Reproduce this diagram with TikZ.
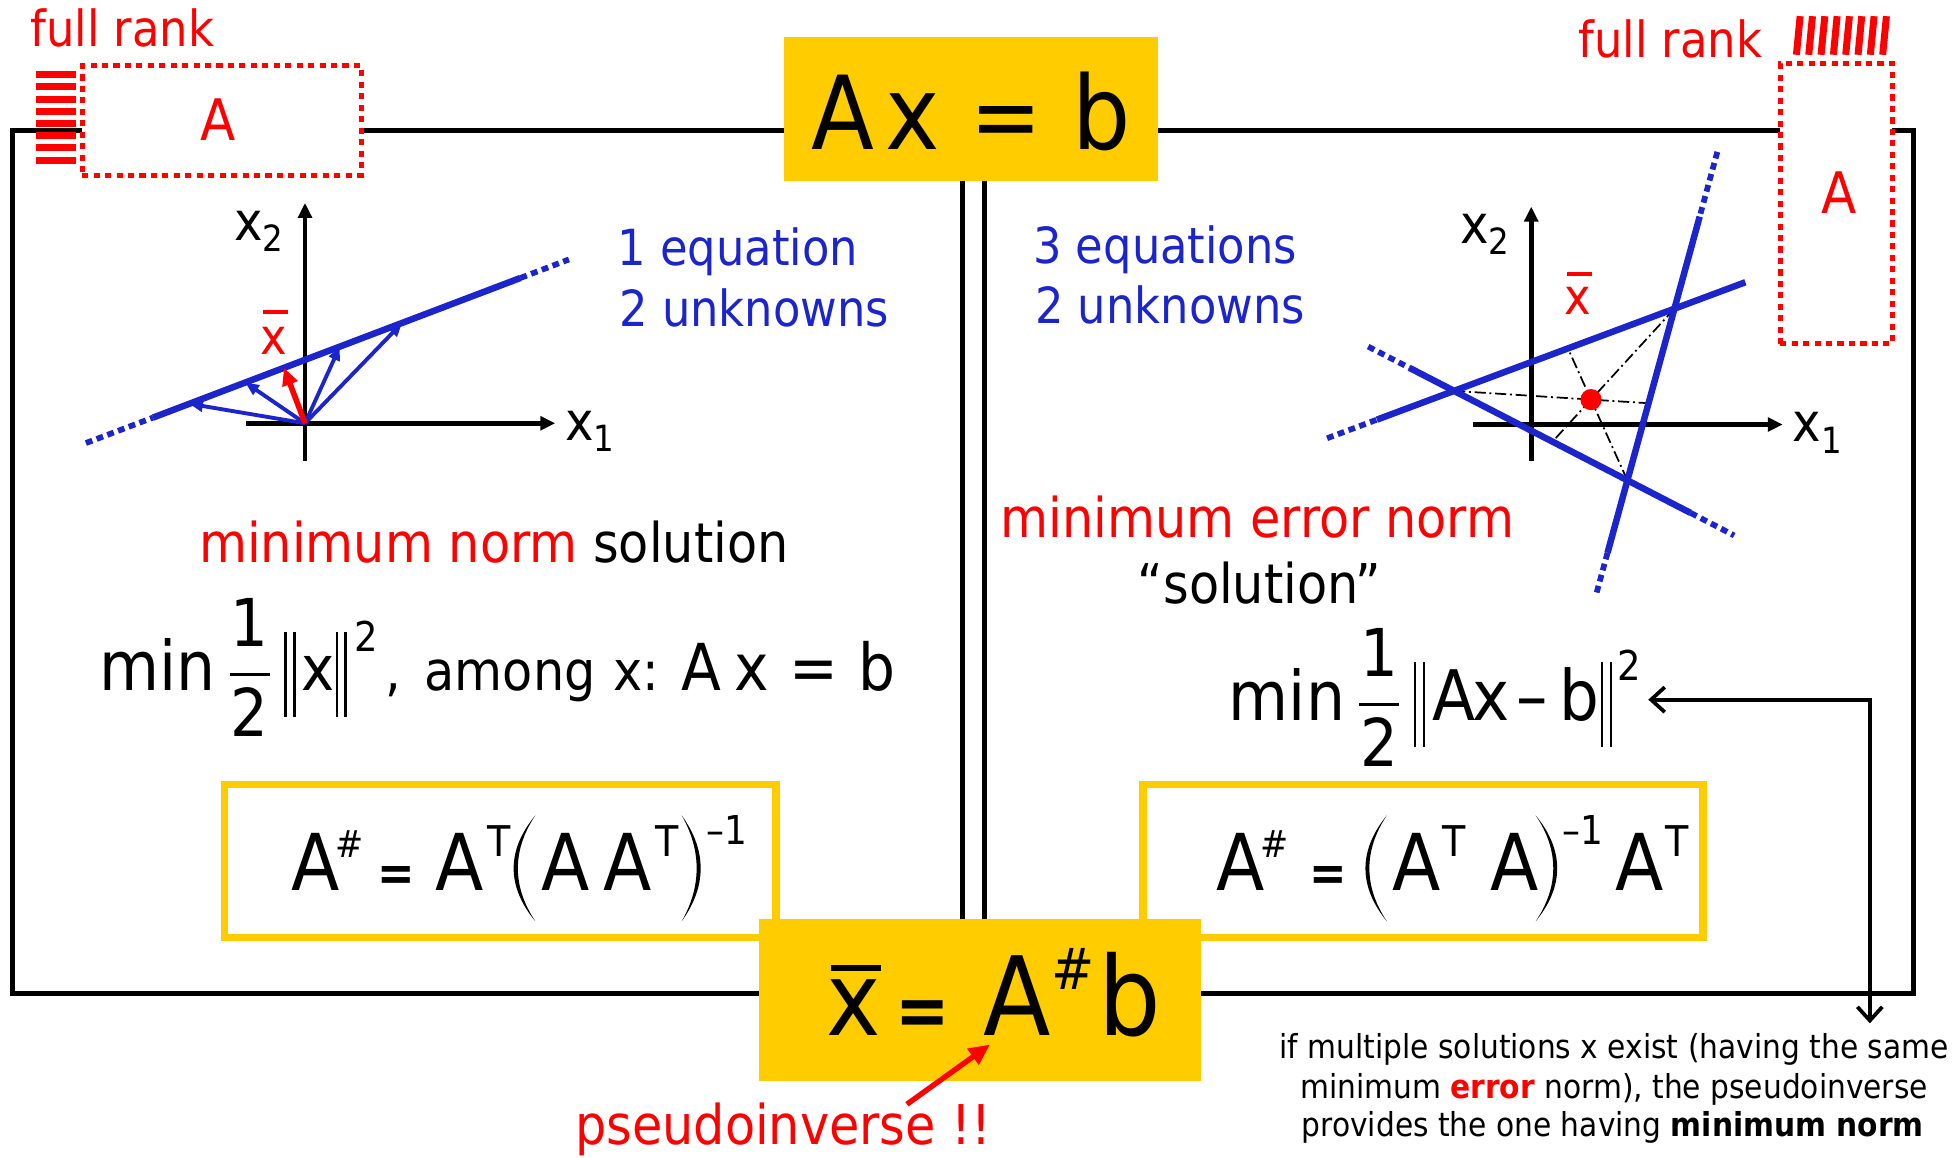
\RequirePackage{fix-cm}
\documentclass[tikz,border=0pt]{standalone}
\usepackage{amsmath}
\usepackage{graphicx}
\usepackage{fontspec}
\setmainfont{DejaVu Sans}[FakeStretch=0.9]
\usetikzlibrary{arrows.meta}
\definecolor{ayellow}{RGB}{255,204,0}
\definecolor{ablue}{RGB}{28,36,204}
\definecolor{ared}{RGB}{255,0,0}
\newcommand\fs[1]{\fontsize{#1}{#1}\selectfont}
\newcommand\pp[2]{\rlap{\hspace*{#1}#2}\ignorespaces}
\newcommand\dbar{\rule[-21pt]{2pt}{68pt}\hspace{5pt}\rule[-21pt]{2pt}{68pt}}
\newcommand\xb[3]{\rlap{\kern0.05em\rule[#1]{#3}{#2}}x}
\newcommand\half{{\fs{53}$\genfrac{}{}{2.2pt}{0}{\text{\kern1pt 1\kern1pt}}{\text{\kern1pt 2\kern1pt}}$}}
\begin{document}
\begin{tikzpicture}[x=1pt,y=-1pt,
  every node/.style={inner sep=0pt,outer sep=0pt},
  lbl/.style={anchor=base west},
  frameline/.style={line width=4.3pt},
  dline/.style={line width=4pt},
  dotbox/.style={draw=ared,line width=4pt,dash pattern=on 4.9pt off 4.3pt,fill=white},
  hatch/.style={draw=ared,line width=5.6pt},
  axis/.style={line width=3.7pt,-{Triangle[length=12pt,width=11pt]}},
  bline/.style={draw=ablue,line width=5.2pt},
  bdots/.style={draw=ablue,line width=4.6pt,dash pattern=on 5.5pt off 3.7pt},
  vec/.style={draw=ablue,line width=3.1pt,-{Triangle[length=11pt,width=9pt]}},
  rvec/.style={draw=ared,line width=4.5pt,-{Triangle[length=14pt,width=12.5pt]}},
  ddash/.style={line width=1.4pt,dash pattern=on 9pt off 3pt on 1.5pt off 3pt},
  ybox/.style={draw=ayellow,line width=6pt},
  yfill/.style={fill=ayellow},
  paren/.style={fill=black},
  note/.style={anchor=base,font=\fs{26.5}},
  conn/.style={line width=3pt,{Straight Barb[length=11pt,width=20pt]}-{Straight Barb[length=11pt,width=20pt]}},
  parrow/.style={draw=ared,line width=4.3pt,-{Triangle[length=17pt,width=15pt]}}]
\useasboundingbox (0,0) rectangle (1568,930);
\fill[white] (0,0) rectangle (1568,930);
% frame
\draw[frameline] (10,105) rectangle (1537,798);
% outlined formula boxes
\node[ybox,minimum width=443pt,minimum height=123pt] (boxL) at (402,691.5) {};
\node[ybox,minimum width=450pt,minimum height=123pt] (boxR) at (1143,691.5) {};
% filled yellow boxes
\node[yfill,minimum width=300pt,minimum height=115pt] (topbox) at (780,87.5) {};
\node[yfill,minimum width=355pt,minimum height=130pt] (botbox) at (787,803) {};
\coordinate (dl) at (773,0);
\coordinate (dr) at (791,0);
\draw[dline] (topbox.south -| dl) -- (botbox.north -| dl);
\draw[dline] (topbox.south -| dr) -- (botbox.north -| dr);
% dotted A boxes and hatches
\node[dotbox,minimum width=224pt,minimum height=88pt] (boxAL) at (178,97) {};
\node[dotbox,minimum width=90pt,minimum height=225pt] (boxAR) at (1475,163.5) {};
\foreach \i in {0,...,7} \draw[hatch] (29,{60+9.8*\i}) -- (61,{60+9.8*\i});
\foreach \i in {0,...,7} \draw[hatch] ({1443+9.9*\i},44) -- ({1446+9.9*\i},13);
\node[lbl,ared] (frL) at (24.6,37.3) {\fs{40}full rank};
\node[lbl,ared] (frR) at (1268,46) {\fs{40}full rank};
\node[ared,font=\fs{46}] (AL) at (175,96) {A};
\node[ared,font=\fs{46}] (AR) at (1477,155) {A};
% left diagram
\draw[axis] (198,340) -- (446,340);
\draw[axis] (245,370) -- (245,163);
\coordinate (O1) at (245,340);
\draw[bdots] (69,355.9) -- (123,335.4);
\draw[bline] (123,335.4) -- (418,223.3);
\draw[bdots] (418,223.3) -- (457,208.4);
\foreach \x/\y [count=\k] in {152/324.3,197/307.2,273/278.4,323/259.4} {
  \coordinate (v\k) at (\x,\y);
  \draw[vec] (O1) -- (v\k);
}
\coordinate (xf) at (228.1,295.4);
\draw[rvec] (O1) -- (xf);
\node[lbl] (x2L) at (188,193.4) {\fs{43}x\raisebox{-8.6pt}{\fs{29}2}};
\node[lbl] (x1L) at (454,354) {\fs{43}x\raisebox{-9pt}{\fs{29}1}};
\node[lbl,ared] (xbL) at (209.5,284.4) {\fs{40}\xb{32pt}{3pt}{20pt}};
\node[lbl,ablue] (eq1) at (496,213) {\fs{40}1 equation};
\node[lbl,ablue] (unk1) at (497.5,262) {\fs{40}2 unknowns};
% right diagram
\draw[axis] (1183,341) -- (1432,341);
\draw[axis] (1230,370) -- (1230,166);
\coordinate (PA) at (1168,314);
\coordinate (PB) at (1345,248);
\coordinate (PC) at (1307.2,385.8);
\coordinate (EA) at (1324.2,323.9);
\coordinate (EB) at (1247.0,354.8);
\coordinate (EC) at (1259.5,279.9);
\draw[ddash] (PA) -- (EA);
\draw[ddash] (PB) -- (EB);
\draw[ddash] (PC) -- (EC);
\draw[bdots] (1066,352.05) -- (1106,337.1);
\draw[bline] (1106,337.1) -- (1402,226.7);
\draw[bdots] (1099,278.4) -- (1132,295.4);
\draw[bline] (1132,295.4) -- (1358,412.0);
\draw[bdots] (1358,412.0) -- (1393,430.1);
\draw[bdots] (1379.5,122) -- (1365.3,174);
\draw[bline] (1365.3,174) -- (1291.3,444);
\draw[bdots] (1291.3,444) -- (1282,478);
\fill[ared] (1278,321) circle (8.5);
\node[lbl] (x2R) at (1173,195.5) {\fs{43}x\raisebox{-8.6pt}{\fs{29}2}};
\node[lbl] (x1R) at (1440,355) {\fs{43}x\raisebox{-9pt}{\fs{29}1}};
\node[lbl,ared] (xbR) at (1257,252.8) {\fs{40}\xb{31pt}{3pt}{20pt}};
\node[lbl,ablue] (eq3) at (830,212) {\fs{40}3 equations};
\node[lbl,ablue] (unk2) at (831.5,260) {\fs{40}2 unknowns};
% headings
\node[lbl] (mns) at (160,452) {\fs{44}\textcolor{ared}{minimum norm} solution};
\node[lbl,ared] (men) at (804,432) {\fs{44}minimum error norm};
\node[lbl] (sol) at (914,485) {\fs{44}“solution”};
% equations
\node[lbl] (eqL) at (84,555) {\fs{55}\pp{-4.4pt}{min}\pp{98.8pt}{\half}\pp{144pt}{\dbar}\pp{157.5pt}{\fs{50}x}\pp{185pt}{\dbar}\pp{200pt}{\raisebox{32pt}{\fs{33}2}}\pp{225.5pt}{\fs{44},}\pp{256.6pt}{\fs{44}among}\pp{408pt}{\fs{44}x:}\pp{463pt}{\fs{52}A}\pp{505.6pt}{\fs{52}x}\pp{550pt}{\fs{52}=}\pp{605pt}{\fs{52}b}};
\node[lbl] (eqR) at (991,579) {\fs{55}\pp{-4.4pt}{min}\pp{98.8pt}{\half}\pp{144.3pt}{\dbar}\pp{159pt}{\fs{56}A}\pp{191pt}{\fs{56}x}\pp{227pt}{\fs{56}–}\pp{261pt}{\fs{56}b}\pp{294.5pt}{\dbar}\pp{308pt}{\raisebox{32pt}{\fs{33}2}}};
% formula in left box
\node[lbl] (fL) at (234,715) {\fs{63}\pp{0pt}{A}\pp{35pt}{\raisebox{26pt}{\fs{30}\#}}\pp{69pt}{\fs{40}\bfseries =}\pp{115.5pt}{A}\pp{157pt}{\raisebox{27pt}{\fs{34}T}}\pp{200.3pt}{A}\pp{250.4pt}{A}\pp{291.8pt}{\raisebox{27pt}{\fs{34}T}}\pp{333pt}{\raisebox{36.7pt}{\fs{32}–1}}};
\fill[paren] (430,655) .. controls (406.8,683) and (406.8,712) .. (430,740) .. controls (411.3,712) and (411.3,683) .. (430,655) -- cycle;
\fill[paren] (547.6,655) .. controls (567.9,683) and (567.9,712) .. (547.6,740) .. controls (563.6,712) and (563.6,683) .. (547.6,655) -- cycle;
% formula in right box
\node[lbl] (fR) at (977,715) {\fs{63}\pp{0pt}{A}\pp{35pt}{\raisebox{26pt}{\fs{30}\#}}\pp{74pt}{\fs{40}\bfseries =}\pp{141pt}{A}\pp{181.4pt}{\raisebox{27pt}{\fs{34}T}}\pp{220pt}{A}\pp{277.7pt}{\raisebox{36.7pt}{\fs{32}–1}}\pp{320pt}{A}\pp{360.6pt}{\raisebox{27pt}{\fs{34}T}}};
\fill[paren] (1114,655) .. controls (1091.1,683) and (1091.1,712) .. (1114,740) .. controls (1095.3,712) and (1095.3,683) .. (1114,655) -- cycle;
\fill[paren] (1233.6,655) .. controls (1256.6,683) and (1256.6,712) .. (1233.6,740) .. controls (1252.4,712) and (1252.4,683) .. (1233.6,655) -- cycle;
% big formulas
\node[lbl] (axb) at (651,120) {\fs{82}\pp{0pt}{A}\pp{60pt}{x}\pp{127.7pt}{\fs{76}=}\pp{210pt}{b}};
\node[lbl] (xab) at (665,832) {\fs{82}\pp{-2pt}{\xb{52pt}{4.5pt}{40pt}}\pp{54pt}{\fs{58}\bfseries =}\pp{124.5pt}{\fs{88}A}\pp{179pt}{\raisebox{37pt}{\fs{46}\#}}\pp{217pt}{\fs{88}b}};
% pseudoinverse label
\node[lbl,ared] (pinv) at (462,919.6) {\fs{44}pseudoinverse !!};
\coordinate (pstart) at (728.5,887);
\coordinate (ptip) at (795.3,839);
\draw[parrow] (pstart) -- (ptip);
% note and connector
\node[note] (n1) at (1296.5,850) {if multiple solutions x exist (having the same};
\node[note] (n2) at (1296.5,882) {minimum {\bfseries\color{ared}error} norm), the pseudoinverse};
\node[note] (n3) at (1295.5,913) {provides the one having {\bfseries minimum norm}};
\coordinate (eqtip) at (1324,562);
\coordinate (notetip) at (1502,822);
\draw[conn] (eqtip) -| (notetip);
\end{tikzpicture}
\end{document}
